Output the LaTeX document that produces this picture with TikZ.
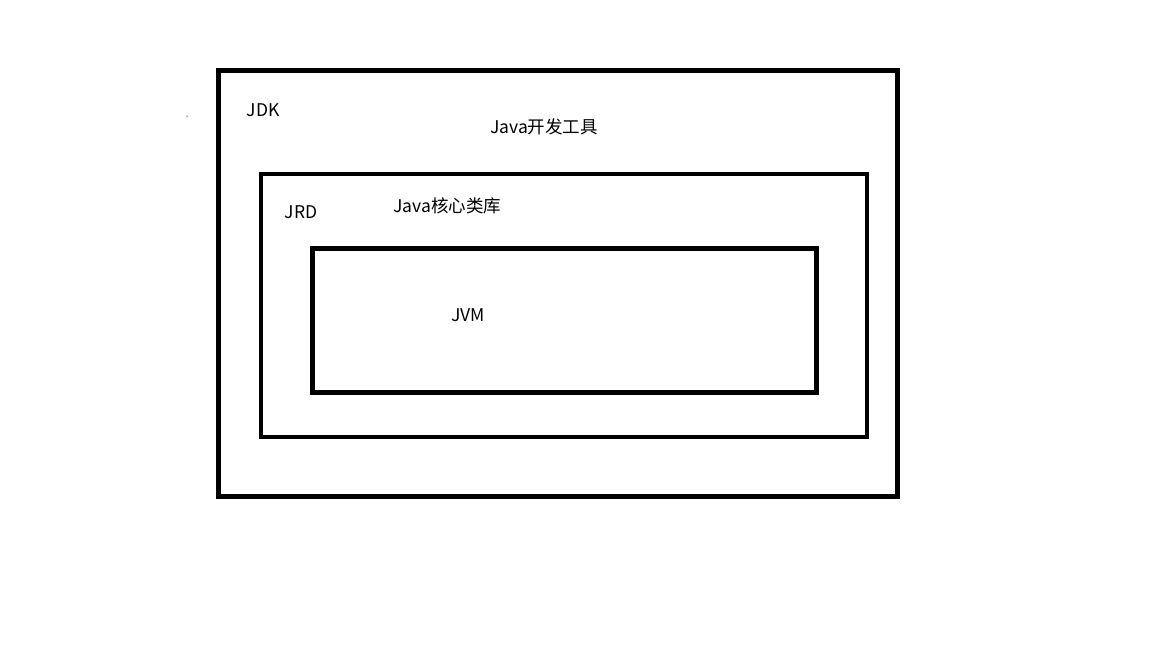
\documentclass[tikz,border=0pt]{standalone}
\usepackage{fontspec}
\setmainfont{Noto Sans CJK SC}
\begin{document}
\begin{tikzpicture}[x=1pt,y=-1pt,
  frame/.style={draw=black,line width=4.5pt},
  lbl/.style={font=\fontsize{17.5}{20}\selectfont,inner sep=0pt,anchor=center}]
\useasboundingbox[fill=white] (0,0) rectangle (1152,648);
\draw[frame] (218.5,70.5) rectangle (897.5,496.5);
\draw[frame] (261,174) rectangle (867,437);
\draw[frame] (312.5,248.5) rectangle (816.5,392.5);
\node[circle,fill=black!70,inner sep=0pt,minimum size=1.5pt] (dot) at (187,116) {};
\node[lbl] (jdk) at (263,110) {JDK};
\node[lbl] (tools) at (544,127) {Java开发工具};
\node[lbl] (jrd) at (301,212) {JRD};
\node[lbl] (lib) at (447.5,206) {Java核心类库};
\node[lbl] (jvm) at (468,315) {JVM};
\end{tikzpicture}
\end{document}
